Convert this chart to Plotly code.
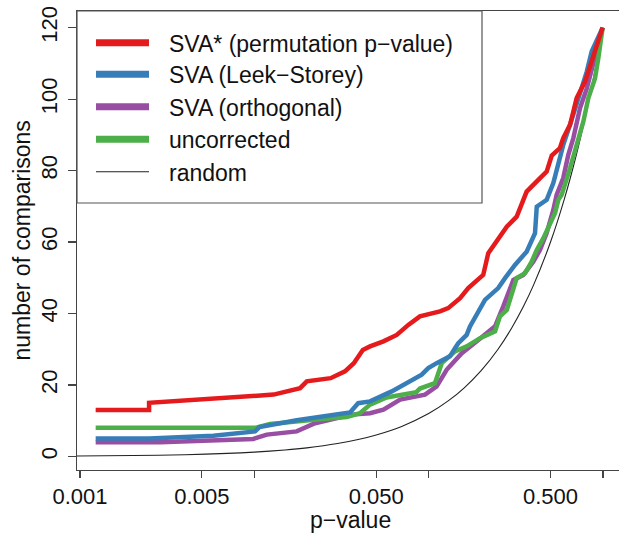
import plotly.graph_objects as go

# ---------------- data ----------------
series_names = ["SVA* (permutation p\u2212value)", "SVA (Leek\u2212Storey)",
                "SVA (orthogonal)", "uncorrected", "random"]
series_colors = ["#E41A1C", "#377EB8", "#984EA3", "#4DAF4A", "#222222"]

red_p = [0.00123, 0.00249, 0.00249, 0.0129, 0.0183, 0.0200, 0.0274, 0.0331, 0.0372, 0.0419,
         0.0461, 0.0550, 0.0656, 0.0764, 0.0891, 0.1161, 0.1294, 0.1514, 0.1687, 0.2056,
         0.2198, 0.2506, 0.2806, 0.3198, 0.3491, 0.3648, 0.4355, 0.4753, 0.5082, 0.5662,
         0.5916, 0.6471, 0.6761, 0.7063, 0.7889, 0.8610, 0.9204, 0.995]
red_n = [13, 13, 15, 17.3, 19.1, 21, 21.9, 23.8, 26.1, 29.8,
         30.8, 32.2, 34, 36.8, 39.2, 40.6, 41.5, 44.3, 47.1, 50.8,
         56.9, 60.6, 64.3, 67.1, 71.8, 74.1, 77.9, 79.7, 84.2, 86.3,
         89.1, 92.8, 96.5, 100.3, 104.9, 110.5, 114.2, 120]

blue_p = [0.00123, 0.0025, 0.00582, 0.0101, 0.0107, 0.0175, 0.0354, 0.0394, 0.0461, 0.0614,
          0.0912, 0.0995, 0.1111, 0.1324, 0.1416, 0.1479, 0.1652, 0.1726, 0.2104, 0.2506,
          0.2742, 0.3126, 0.3648, 0.4074, 0.4169, 0.4753, 0.5188, 0.5546, 0.5916, 0.6471,
          0.7211, 0.7551, 0.8072, 0.8610, 0.995]
blue_n = [5, 5, 5.8, 7, 8.2, 10.1, 12.3, 14.9, 15.4, 18.2,
          22.9, 24.7, 26.1, 28, 30.3, 31.7, 34, 36.4, 43.8, 47.1,
          49.9, 53.6, 57.3, 62.5, 69.9, 71.8, 76.5, 82.5, 87.2, 92.8,
          100.3, 104, 107.7, 113.3, 120]

purple_p = [0.00123, 0.00288, 0.00986, 0.0118, 0.0175, 0.0200, 0.0223, 0.0363, 0.0461, 0.0550,
            0.0596, 0.0686, 0.0953, 0.1111, 0.1271, 0.1549, 0.1928, 0.2404, 0.2679, 0.3062,
            0.3491, 0.3981, 0.4355, 0.4753, 0.5188, 0.5420, 0.5916, 0.6324, 0.6761, 0.7379,
            0.8072, 0.8610, 0.9204, 0.995]
purple_n = [4, 4, 4.9, 6.1, 7, 8.4, 9.3, 11.7, 12.1, 13.1,
            14, 15.9, 17.3, 19.6, 24.3, 28.9, 32.6, 36.4, 42, 49.4,
            50.8, 54.5, 57.8, 62.5, 69, 73.2, 77.9, 84.4, 89.1, 97.4,
            103, 108.6, 114.2, 120]

green_p = [0.00123, 0.0101, 0.0123, 0.0168, 0.0228, 0.0339, 0.0403, 0.0461, 0.0574, 0.0849,
           0.0891, 0.1086, 0.1189, 0.1416, 0.1652, 0.1972, 0.2404, 0.2564, 0.2806, 0.3198,
           0.3573, 0.3899, 0.4169, 0.4550, 0.4853, 0.5309, 0.5546, 0.5794, 0.6471, 0.7063,
           0.7709, 0.8241, 0.8995, 0.9397, 0.995]
green_n = [8, 8, 9.1, 9.8, 10.3, 11, 12.1, 14.5, 16.5, 18,
           19, 20.5, 26.1, 29.4, 30.8, 33.1, 35, 39.2, 41, 49.9,
           51.3, 54.5, 57.8, 61.1, 64.3, 68.1, 71.8, 73.2, 80.7, 87.2,
           93.7, 100.3, 105.8, 111.4, 120]

random_p = [0.00096, 0.002, 0.004, 0.007, 0.01, 0.015, 0.02, 0.03, 0.04, 0.05, 0.07, 0.1,
            0.13, 0.16, 0.2, 0.25, 0.3, 0.35, 0.4, 0.5, 0.6, 0.7, 0.8, 0.9, 1.0]
random_n = [0.12, 0.24, 0.48, 0.84, 1.2, 1.8, 2.4, 3.6, 4.8, 6, 8.4, 12,
            15.6, 19.2, 24, 30, 36, 42, 48, 60, 72, 84, 96, 108, 120]

x_tickvals = [0.001, 0.005, 0.01, 0.05, 0.1, 0.5, 1]
x_ticktext = ["0.001", "0.005", "", "0.050", "", "0.500", ""]
y_tickvals = [0, 20, 40, 60, 80, 100, 120]
x_title = "p\u2212value"
y_title = "number of comparisons"

# ---------------- figure ----------------
FONT = "Liberation Sans, Arial, Helvetica, sans-serif"
TXT = "#111111"
AX = "#444444"
fig = go.Figure()

xs = [red_p, blue_p, purple_p, green_p, random_p]
ys = [red_n, blue_n, purple_n, green_n, random_n]
widths = [4.5, 4.5, 4.5, 4.5, 1.1]
for i in [4, 2, 3, 1, 0]:
    fig.add_trace(go.Scatter(
        x=xs[i], y=ys[i], mode="lines", name=series_names[i],
        line=dict(color=series_colors[i], width=widths[i],
                  shape="spline" if i == 4 else "linear",
                  smoothing=0.6 if i == 4 else None),
        showlegend=False, hoverinfo="skip"))

# plot region in pixels (R-style box, right side cropped by the picture)
L, R, T, B = 77, 619, 11, 470
W, H = R - L, B - T
def px(x):
    return (x - L) / W
def py(y):
    return (B - y) / H

# manual R-style legend in the top-left corner of the plot region
fig.add_shape(type="rect", xref="paper", yref="paper",
              x0=px(77), x1=px(482), y0=py(203), y1=py(11),
              line=dict(color="#555555", width=1.2), fillcolor="white", layer="above")
row_y = [42.7, 74.2, 106.8, 139.3, 171.8]
for i, name in enumerate(series_names):
    fig.add_shape(type="line", xref="paper", yref="paper",
                  x0=px(96), x1=px(149), y0=py(row_y[i]), y1=py(row_y[i]),
                  line=dict(color=series_colors[i], width=7 if i < 4 else 1.1),
                  layer="above")
    fig.add_annotation(xref="paper", yref="paper", x=px(167), y=py(row_y[i] + 1),
                       text=name, showarrow=False, xanchor="left", yanchor="middle",
                       font=dict(family=FONT, size=23, color=TXT))

# axis titles (R places them centred on the plot region)
fig.add_annotation(xref="paper", yref="paper", x=px(350), y=py(534),
                   text=x_title, showarrow=False, xanchor="center", yanchor="bottom",
                   borderpad=0, font=dict(family=FONT, size=23, color=TXT))
fig.add_annotation(xref="paper", yref="paper", x=px(21), y=0.5,
                   text=y_title, showarrow=False, xanchor="center", yanchor="middle",
                   textangle=-90, font=dict(family=FONT, size=23, color=TXT))

fig.update_layout(
    width=619, height=534,
    margin=dict(l=L, r=0, t=T, b=534 - B, pad=0),
    paper_bgcolor="white", plot_bgcolor="white",
    font=dict(family=FONT, color=TXT),
    hovermode=False,
    xaxis=dict(type="log", range=[-3.0172, 0.0918], automargin=False,
               tickvals=x_tickvals, ticktext=x_ticktext,
               ticks="outside", ticklen=7, tickwidth=1.1, tickcolor=AX,
               ticklabelstandoff=-1,
               showline=True, linecolor=AX, linewidth=1.2, mirror=True,
               showgrid=False, zeroline=False,
               tickfont=dict(family=FONT, size=22, color=TXT)),
    yaxis=dict(range=[-3.8, 124.65], automargin=False,
               tickvals=y_tickvals, ticks="outside", ticklen=8, tickwidth=1.1,
               tickcolor=AX, tickangle=-90, ticklabelstandoff=2,
               showline=True, linecolor=AX, linewidth=1.2, mirror=False,
               showgrid=False, zeroline=False,
               tickfont=dict(family=FONT, size=22, color=TXT)),
)

# remove the browser's default page margin so the figure sits at the window's corner
fig.write_html("out.html",
               config={"displayModeBar": False, "staticPlot": True},
               post_script="document.body.style.margin='0';document.body.style.padding='0';")
